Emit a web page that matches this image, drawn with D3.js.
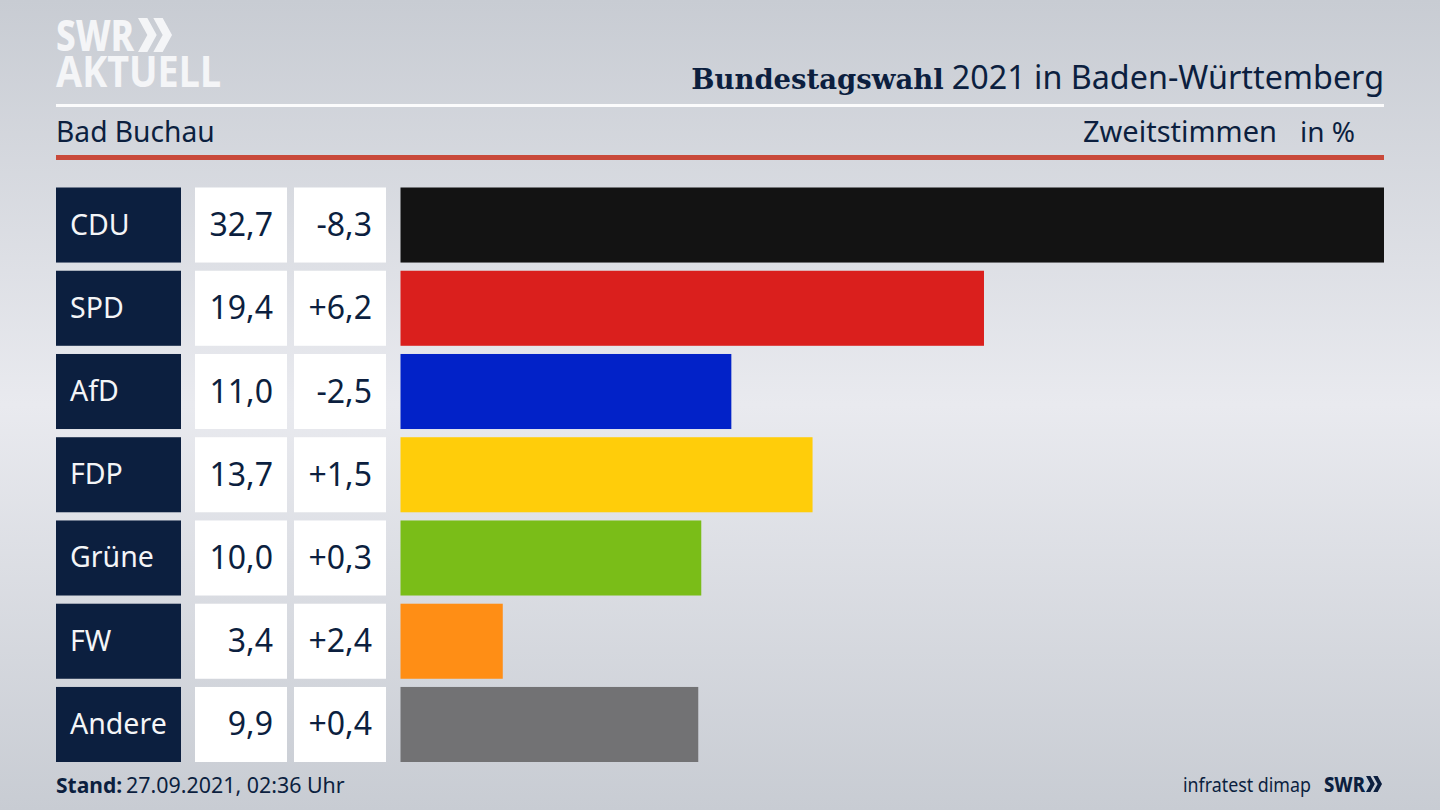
<!DOCTYPE html>
<html lang="de">
<head>
<meta charset="utf-8">
<title>Bundestagswahl 2021 in Baden-Württemberg</title>
<script src="https://cdn.jsdelivr.net/npm/d3@7"></script>
<style>
  html, body { margin: 0; padding: 0; background: #d5d8de; overflow: hidden; }
  svg { display: block; }
  text { font-family: "Noto Sans", sans-serif; fill: #0c1f3f; }
  .slab { font-family: "DejaVu Serif", serif; }
</style>
</head>
<body>
<svg id="chart" width="1440" height="810"></svg>
<script>
const parties = ['CDU', 'SPD', 'AfD', 'FDP', 'Grüne', 'FW', 'Andere'];
const shares = [32.7, 19.4, 11.0, 13.7, 10.0, 3.4, 9.9];
const changes = ['-8,3', '+6,2', '-2,5', '+1,5', '+0,3', '+2,4', '+0,4'];
const partyColors = ['#131313', '#da1f1d', '#0222c8', '#ffcd0a', '#7abd18', '#ff8e15', '#727274'];

const navy = '#0c1f3f';
const formatShare = (v) => v.toFixed(1).replace('.', ',');

const svg = d3.select('#chart');

// background
const defs = svg.append('defs');
const bg = defs.append('linearGradient').attr('id', 'bg').attr('x1', 0).attr('x2', 0).attr('y1', 0).attr('y2', 1);
bg.append('stop').attr('offset', '0%').attr('stop-color', '#c8ccd3');
bg.append('stop').attr('offset', '50%').attr('stop-color', '#e9eaef');
bg.append('stop').attr('offset', '100%').attr('stop-color', '#c8ccd3');
svg.append('rect').attr('width', 1440).attr('height', 810).attr('fill', 'url(#bg)');

const y = d3.scaleBand().domain(parties).range([187.5, 762]).paddingInner(0.0985);
const x = d3.scaleLinear().domain([0, 32.7]).range([400.5, 1384]);

// header
function chevrons(g, px, py, h, color) {
  const w = h * 0.55;
  [0, w * 0.82].forEach((dx) => {
    g.append('path')
      .attr('d', `M${px + dx},${py} h${w * 0.5} l${w * 0.5},${h / 2} l${-w * 0.5},${h / 2} h${-w * 0.5} l${w * 0.5},${-h / 2} z`)
      .attr('fill', color);
  });
}

svg.append('text').attr('x', 56).attr('y', 51).attr('font-size', 42).attr('font-weight', 800)
  .style('fill', '#f4f5f7').attr('textLength', 78).attr('lengthAdjust', 'spacingAndGlyphs').text('SWR');
chevrons(svg, 138, 18, 34, '#f4f5f7');
svg.append('text').attr('x', 56).attr('y', 87).attr('font-size', 43).attr('font-weight', 700)
  .style('fill', '#f4f5f7').attr('textLength', 165).attr('lengthAdjust', 'spacingAndGlyphs').text('AKTUELL');

const title = svg.append('text').attr('x', 1384).attr('y', 89).attr('text-anchor', 'end').attr('font-size', 32.3);
title.append('tspan').attr('class', 'slab').attr('font-weight', 700).attr('font-size', 27.5).text('Bundestagswahl');
title.append('tspan').attr('dx', 8).text('2021 in Baden-Württemberg');

svg.append('rect').attr('x', 56).attr('y', 104).attr('width', 1328).attr('height', 3).attr('fill', '#fbfbfc');
svg.append('text').attr('x', 56).attr('y', 142).attr('font-size', 28.2).text('Bad Buchau');
svg.append('text').attr('x', 1277).attr('y', 142).attr('text-anchor', 'end').attr('font-size', 29).text('Zweitstimmen');
svg.append('text').attr('x', 1355).attr('y', 142).attr('text-anchor', 'end').attr('font-size', 28).text('in %');
svg.append('rect').attr('x', 56).attr('y', 155).attr('width', 1328).attr('height', 5).attr('fill', '#c9493a');

// rows
const rows = svg.selectAll('g.row').data(parties).join('g').attr('class', 'row')
  .attr('transform', (d) => `translate(0,${y(d)})`);
const h = y.bandwidth();

rows.append('rect').attr('x', 56).attr('width', 125).attr('height', h).attr('fill', navy);
rows.append('text').attr('x', 70).attr('y', h / 2 + 9.5).attr('font-size', 28.5)
  .style('fill', '#f4f5f7').text((d) => d);

rows.append('rect').attr('x', 195).attr('width', 92).attr('height', h).attr('fill', '#fff');
rows.append('text').attr('x', 273).attr('y', h / 2 + 11).attr('text-anchor', 'end').attr('font-size', 32)
  .text((d, i) => formatShare(shares[i]));

rows.append('rect').attr('x', 294).attr('width', 92).attr('height', h).attr('fill', '#fff');
rows.append('text').attr('x', 372).attr('y', h / 2 + 11).attr('text-anchor', 'end').attr('font-size', 32)
  .text((d, i) => changes[i]);

rows.append('rect').attr('x', x(0)).attr('height', h)
  .attr('width', (d, i) => x(shares[i]) - x(0))
  .attr('fill', (d, i) => partyColors[i]);

// footer
const stand = svg.append('text').attr('x', 56).attr('y', 793).attr('font-size', 21.4);
stand.append('tspan').attr('font-weight', 700).attr('font-size', 21).text('Stand:');
stand.append('tspan').attr('dx', 4).text('27.09.2021, 02:36 Uhr');

svg.append('text').attr('x', 1183).attr('y', 792).attr('font-size', 20)
  .attr('textLength', 128).attr('lengthAdjust', 'spacingAndGlyphs').text('infratest dimap');
svg.append('text').attr('x', 1324).attr('y', 792).attr('font-size', 22).attr('font-weight', 800)
  .attr('textLength', 41).attr('lengthAdjust', 'spacingAndGlyphs').text('SWR');
chevrons(svg, 1366, 776, 16, navy);
</script>
</body>
</html>
